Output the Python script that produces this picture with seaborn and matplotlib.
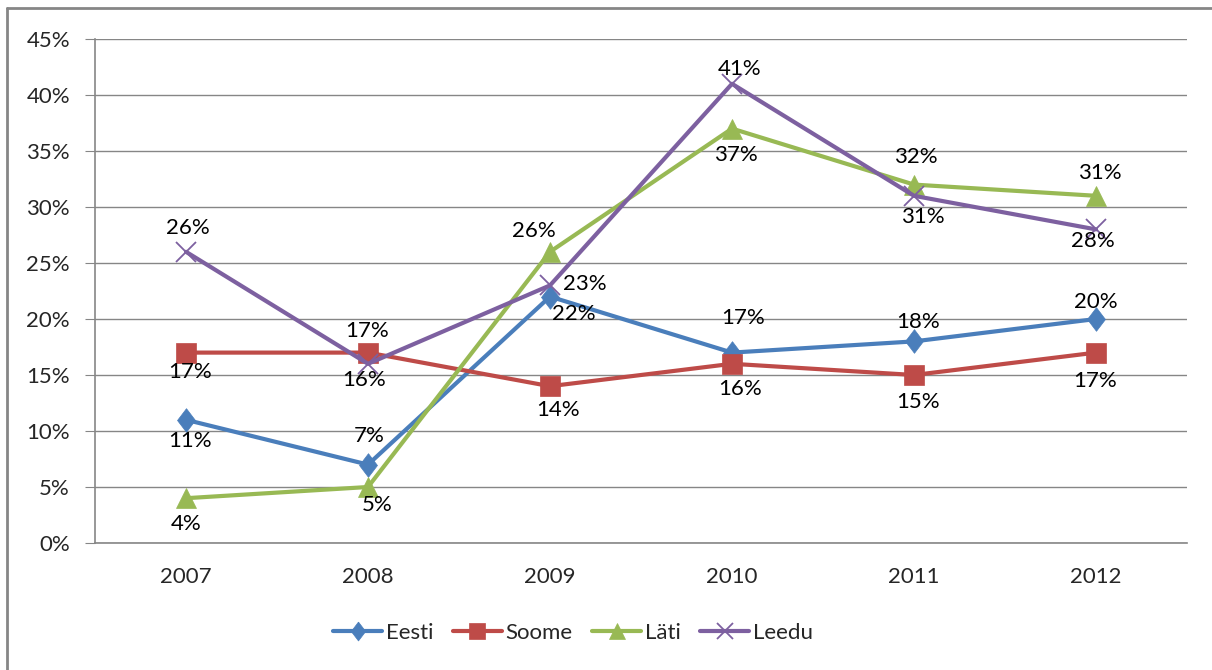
import numpy as np
import pandas as pd
import matplotlib
matplotlib.use("Agg")
import matplotlib.pyplot as plt
from matplotlib.lines import Line2D
from matplotlib.ticker import FuncFormatter
import seaborn as sns

years = ["2007", "2008", "2009", "2010", "2011", "2012"]
eesti = [11, 7, 22, 17, 18, 20]
soome = [17, 17, 14, 16, 15, 17]
lati = [4, 5, 26, 37, 32, 31]
leedu = [26, 16, 23, 41, 31, 28]

series = [("Eesti", eesti), ("Soome", soome), ("Läti", lati), ("Leedu", leedu)]
colors = {"Eesti": "#4A7EBB", "Soome": "#BE4B48", "Läti": "#98B954", "Leedu": "#7D60A0"}
# tall excel-like diamond
diamond = [(0, 1), (0.76, 0), (0, -1), (-0.76, 0), (0, 1)]
markers = {"Eesti": diamond, "Soome": "s", "Läti": "^", "Leedu": "x"}
msizes = {"Eesti": 17, "Soome": 14, "Läti": 14, "Leedu": 14}

# label offsets in pixels (dx, dy up-positive)
offsets = {
    "Eesti": [(4, -21), (1, 29), (24, -17), (11, 35), (4, 19), (0, 17)],
    "Soome": [(4, -19), (-1, 22), (8, -24), (8, -25), (4, -27), (-1, -28)],
    "Läti": [(0, -26), (9, -18), (-16, 21), (4, -26), (2, 28), (4, 23)],
    "Leedu": [(2, 24), (-4, -16), (35, 1), (8, 15), (9, -21), (-3, -12)],
}

sns.set_style("white")
plt.rcParams["font.family"] = ["Lato", "DejaVu Sans"]

fig = plt.figure(figsize=(12.12, 6.70), dpi=100)
ax = fig.add_axes([95 / 1212, 1 - 543 / 670, 1092 / 1212, 504 / 670])

rows = []
for name, vals in series:
    for i, v in enumerate(vals):
        rows.append({"pos": i, "value": v, "series": name})
df = pd.DataFrame(rows)

for name, vals in series:
    sub = df[df["series"] == name]
    sns.lineplot(data=sub, x="pos", y="value", color=colors[name], linewidth=3,
                 marker=markers[name], markersize=msizes[name],
                 markeredgecolor=colors[name],
                 markeredgewidth=1.3 if name == "Leedu" else 0.5,
                 ax=ax, label=name, zorder=3)
    for i, v in enumerate(vals):
        dx, dy = offsets[name][i]
        ax.annotate(f"{v}%", (i, v), xytext=(dx, dy), textcoords="offset pixels",
                    ha="center", va="center", fontsize=16, color="black", zorder=5)

ax.set_xlim(-0.5, 5.5)
ax.set_ylim(0, 45)
ax.set_yticks(np.arange(0, 46, 5))
ax.yaxis.set_major_formatter(FuncFormatter(lambda v, p: f"{int(v)}%"))
ax.grid(axis="y", color="#868686", linewidth=1)
ax.set_axisbelow(True)
ax.set_xticks(range(len(years)))
ax.set_xticklabels(years)
ax.set_xticks(np.arange(-0.5, 6, 1), minor=True)
ax.tick_params(axis="x", which="major", length=0, pad=17, labelsize=16)
ax.tick_params(axis="x", which="minor", length=7, color="#868686", direction="out")
ax.tick_params(axis="y", length=7, color="#868686", direction="out", pad=11, labelsize=16,
               left=True)
ax.set_xlabel("")
ax.set_ylabel("")
for s in ["top", "right"]:
    ax.spines[s].set_visible(False)
for s in ["left", "bottom"]:
    ax.spines[s].set_color("#868686")
    ax.spines[s].set_linewidth(1.2)

handles, labels = ax.get_legend_handles_labels()
ax.legend(handles, labels, loc="center",
          bbox_to_anchor=((573 - 95) / 1092, (1 - 633 / 670 - (1 - 543 / 670)) / (504 / 670)),
          ncol=4, frameon=False, fontsize=16, handlelength=2.2, columnspacing=0.9,
          handletextpad=0.15, markerscale=0.8)

fig.add_artist(Line2D([7 / 1212, 7 / 1212], [0, 1 - 8 / 670], transform=fig.transFigure,
                      color="#868686", linewidth=2))
fig.add_artist(Line2D([7 / 1212, 1], [1 - 8 / 670, 1 - 8 / 670], transform=fig.transFigure,
                      color="#868686", linewidth=2))

fig.savefig("out.png", dpi=100)
